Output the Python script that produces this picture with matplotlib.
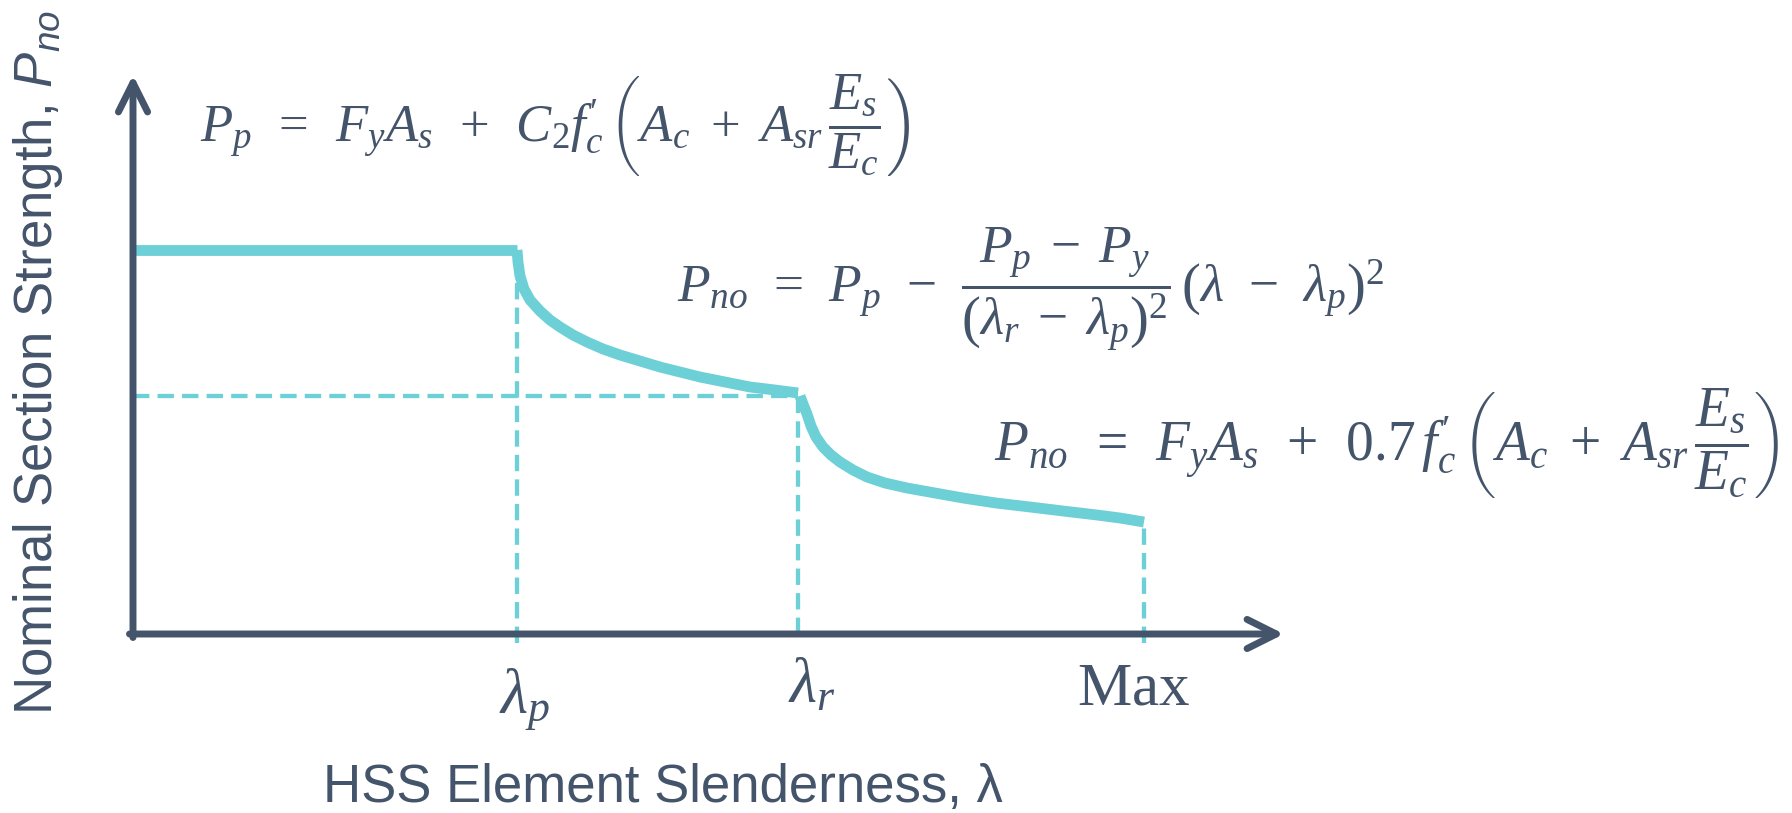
import matplotlib
matplotlib.use("Agg")
import matplotlib.pyplot as plt

# ---- data (arbitrary units) ----
lam_p = 38.4
lam_r = 66.5
lam_max = 101.1
P_p = 38.4
P_y = 23.8
P_end = 11.2

plateau_lam = [0.0, 38.4]
plateau_P = [38.4, 38.4]

seg1_lam = [38.4, 38.5, 38.7, 39.1, 39.7, 40.7, 41.7, 42.7, 44.0, 45.4,
            47.0, 48.7, 50.7, 52.7, 54.7, 56.7, 59.2, 61.7, 64.2, 66.5]
seg1_P = [38.4, 37.2, 35.8, 34.5, 33.4, 32.3, 31.4, 30.7, 29.9, 29.2,
          28.5, 27.9, 27.3, 26.7, 26.2, 25.7, 25.2, 24.7, 24.4, 24.1]

seg2_lam = [66.7, 67.0, 67.4, 67.8, 68.3, 69.0, 69.8, 70.7, 72.0, 73.4,
            75.2, 77.4, 80.2, 83.0, 86.3, 89.7, 93.0, 96.4, 98.7, 101.1]
seg2_P = [23.8, 23.0, 22.0, 20.8, 19.7, 18.7, 17.9, 17.2, 16.4, 15.7,
          15.1, 14.6, 14.1, 13.6, 13.1, 12.7, 12.3, 11.9, 11.6, 11.2]

tick_labels = [r"$\lambda_p$", r"$\lambda_r$", r"$\mathrm{Max}$"]
xlabel = "HSS Element Slenderness, \u03bb"
ylabel = r"Nominal Section Strength, $\mathsf{P_{no}}$"
eq1 = (r"$P_p\ \,=\ \,F_y A_s\ \,+\ \,C_2 f_{c}^{\prime}\,\left(A_c\ +\ A_{sr}\,"
       r"\dfrac{E_s}{E_c}\right)$")
eq2 = (r"$P_{no}\;\,=\;\,P_p\;\,-\;\,\dfrac{P_p\;-\;P_y}{\left(\lambda_r\;-\;\lambda_p\right)^2}"
       r"\,\left(\lambda\;\,-\;\,\lambda_p\right)^2$")
eq3 = (r"$P_{no}\ \,=\ \,F_y A_s\ \,+\ \,0.7\,f_{c}^{\prime}\,\left(A_c\ +\ A_{sr}\,"
       r"\dfrac{E_s}{E_c}\right)$")

# ---- style ----
DARK = "#44546A"
CYAN = "#6DD0D7"
plt.rcParams["mathtext.fontset"] = "custom"
plt.rcParams["mathtext.rm"] = "Liberation Serif"
plt.rcParams["mathtext.it"] = "Liberation Serif:italic"
plt.rcParams["mathtext.bf"] = "Liberation Serif:bold"
plt.rcParams["mathtext.sf"] = "Liberation Sans:italic"
plt.rcParams["font.family"] = ["Liberation Sans", "DejaVu Sans"]

fig = plt.figure(figsize=(17.92, 8.13), dpi=100)
ax = fig.add_axes([0, 0, 1, 1])
ax.set_xlim(-13.3, 165.9)
ax.set_ylim(-17.9, 63.4)
ax.axis("off")

# dashed guides
dash_kw = dict(color=CYAN, lw=3.1, dashes=(3.8, 1.9), zorder=2)
ax.plot([lam_p, lam_p], [-0.9, P_p], **dash_kw)
ax.plot([lam_r, lam_r], [0.0, P_y], **dash_kw)
ax.plot([lam_max, lam_max], [-0.9, P_end], **dash_kw)
ax.plot([0, lam_r], [P_y, P_y], **dash_kw)

# curve
curve_kw = dict(color=CYAN, lw=7.8, solid_capstyle="butt", solid_joinstyle="round", zorder=3)
ax.plot(plateau_lam, plateau_P, **curve_kw)
ax.plot(seg1_lam, seg1_P, **curve_kw)
ax.plot(seg2_lam, seg2_P, **curve_kw)

# axes arrows
arrow_kw = dict(arrowstyle="->,head_length=2.1,head_width=1.05", color=DARK, lw=5,
                shrinkA=0, shrinkB=0, capstyle="round", joinstyle="round")
ax.annotate("", xy=(115.1, 0), xytext=(-0.35, 0), arrowprops=arrow_kw, zorder=4)
ax.annotate("", xy=(0, 55.9), xytext=(0, -0.35), arrowprops=arrow_kw, zorder=4)

# tick labels
ax.text(lam_p + 0.8, -7.8, tick_labels[0], color=DARK, fontsize=45, ha="center", va="baseline")
ax.text(lam_r + 1.4, -6.8, tick_labels[1], color=DARK, fontsize=45, ha="center", va="baseline")
ax.text(lam_max - 1.0, -7.0, tick_labels[2], color=DARK, fontsize=44, ha="center", va="baseline")

# axis labels
ax.text(53.0, -16.8, xlabel, color=DARK, fontsize=38, ha="center", va="baseline")
ax.text(-9.5, 27.2, ylabel, color=DARK, fontsize=38, ha="center", va="center", rotation=90)

# equations
ax.text(6.7, 49.2, eq1, color=DARK, fontsize=38, ha="left", va="baseline")
ax.text(54.4, 33.2, eq2, color=DARK, fontsize=38.5, ha="left", va="baseline")
ax.text(86.1, 17.3, eq3, color=DARK, fontsize=40, ha="left", va="baseline")

fig.savefig("out.png", dpi=100)
